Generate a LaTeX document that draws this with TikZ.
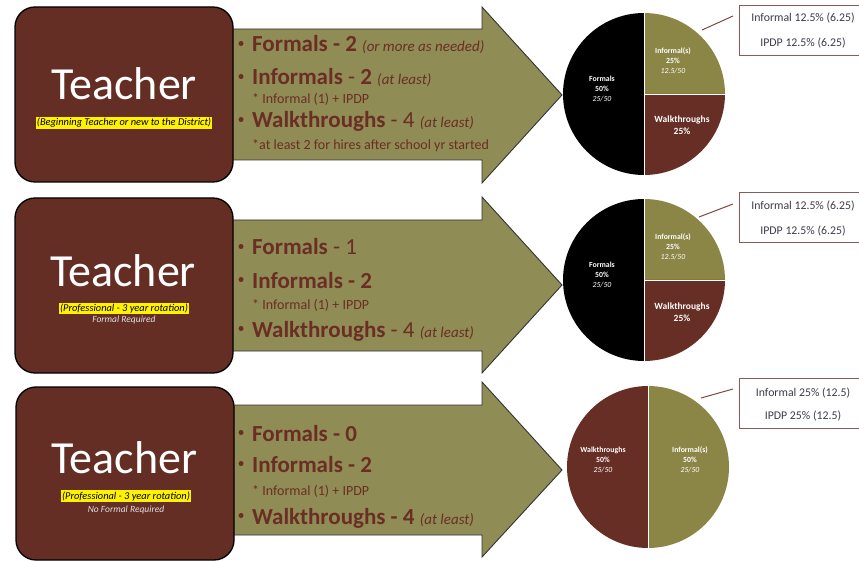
\documentclass[tikz,border=0pt]{standalone}
\usepackage{fontspec}
\setmainfont{Carlito}
\definecolor{boxbrown}{HTML}{652E24}
\definecolor{arrowolive}{HTML}{908C55}
\definecolor{pieolive}{HTML}{8B8646}
\definecolor{piebrown}{HTML}{672E25}
\definecolor{textbrown}{HTML}{6A2E25}
\definecolor{calloutred}{HTML}{8B5A58}
\definecolor{callouttext}{HTML}{3C3C4C}
\definecolor{leadbrown}{HTML}{7B4A42}
\begin{document}
\begin{tikzpicture}[x=1pt,y=1pt,
  tbox/.style={draw=black, line width=1.3pt, fill=boxbrown, rounded corners=20pt, minimum width=218pt, minimum height=175pt, inner sep=0pt},
  arrowshape/.style={fill=arrowolive, draw=black!80, line width=0.9pt, line join=miter},
  item/.style={anchor=base west, inner sep=0pt, text=textbrown, font=\fontsize{23}{25}\selectfont},
  subitem/.style={anchor=base west, inner sep=0pt, text=textbrown, font=\fontsize{14}{16}\selectfont},
  bul/.style={circle, fill=textbrown, inner sep=0pt, minimum size=5pt},
  teach/.style={anchor=base, inner sep=0pt, text=white, font=\fontsize{46}{50}\selectfont},
  hl/.style={anchor=base, fill=yellow, inner sep=1pt, text=black, font=\fontsize{10.4}{12}\selectfont\itshape},
  hlnote/.style={anchor=base, inner sep=0pt, text=black!12, font=\fontsize{9.5}{11}\selectfont\itshape},
  pielab/.style={align=center, text=white, font=\fontsize{7.8}{9.8}\selectfont\bfseries, inner sep=0pt},
  pielabbig/.style={align=center, text=white, font=\fontsize{9.5}{12.5}\selectfont\bfseries, inner sep=0pt},
  callout/.style={draw=calloutred, line width=1pt, fill=white, minimum width=140pt, minimum height=50pt, anchor=north west, inner sep=0pt},
  ctext/.style={anchor=base, text=callouttext, font=\fontsize{11.8}{13}\selectfont, inner sep=0pt},
  lead/.style={draw=leadbrown, line width=1pt},
  sep/.style={draw=white, line width=0.6pt}
]
\useasboundingbox (0,0) rectangle (859,-561);
\clip (0,0) rectangle (859,-561);
\fill[white] (0,0) rectangle (859,-561);
\newcommand{\paren}[1]{{\fontsize{15}{17}\selectfont\itshape #1}}

% ---------- Row 1 ----------
\draw[arrowshape] (220,-29) -- (482,-29) -- (482,-7) -- (562,-95) -- (482,-183) -- (482,-160) -- (220,-160) -- cycle;
\node[tbox] (tb1) at (124,-94.5) {};
\node[teach] (te1) at (124,-100) {Teacher};
\node[hl] (hl1) at (124,-126) {(Beginning Teacher or new to the District)};
\node[bul] (b11) at (241,-43.5) {};
\node[item] (i11) at (252,-52) {\textbf{Formals - 2} \paren{(or more as needed)}};
\node[bul] (b12) at (241,-76.5) {};
\node[item] (i12) at (252,-85) {\textbf{Informals} - \textbf{2} \paren{(at least)}};
\node[subitem] (s12) at (252,-104) {* Informal (1) + IPDP};
\node[bul] (b13) at (241,-119.5) {};
\node[item] (i13) at (252,-128) {\textbf{Walkthroughs} - 4 \paren{(at least)}};
\node[subitem] (s13) at (252,-150) {*at least 2 for hires after school yr started};

\coordinate (p1) at (644,-94);
\fill[black] (p1) -- ++(90:81pt) arc[start angle=90, end angle=270, radius=81pt] -- cycle;
\fill[pieolive] (p1) -- ++(0:81pt) arc[start angle=0, end angle=90, radius=81pt] -- cycle;
\fill[piebrown] (p1) -- ++(0:81pt) arc[start angle=0, end angle=-90, radius=81pt] -- cycle;
\draw[sep] (p1) -- ++(0:81pt) (p1) -- ++(90:81pt) (p1) -- ++(-90:81pt);
\node[pielab] (pf1) at (602,-89) {Formals\\50\%\\{\normalfont\itshape 25/50}};
\node[pielab] (pi1) at (673,-61) {Informal(s)\\25\%\\{\normalfont\itshape 12.5/50}};
\node[pielabbig] (pw1) at (682,-125) {Walkthroughs\\25\%};

\node[callout] (co1) at (739,-5) {};
\node[ctext] (ct11) at (803,-22) {Informal 12.5\% (6.25)};
\node[ctext] (ct12) at (803,-47) {IPDP 12.5\% (6.25)};
\coordinate (l1a) at (702,-30);
\coordinate (l1b) at (733,-16);
\draw[lead] (l1a) -- (l1b);

% ---------- Row 2 ----------
\draw[arrowshape] (220,-220) -- (482,-220) -- (482,-197) -- (562,-285) -- (482,-373) -- (482,-351) -- (220,-351) -- cycle;
\node[tbox] (tb2) at (124,-285.5) {};
\node[teach] (te2) at (123,-287) {Teacher};
\node[hl] (hl2) at (124,-311.5) {(Professional - 3 year rotation)};
\node[hlnote] (hn2) at (124,-322.5) {Formal Required};
\node[bul] (b21) at (241,-246.5) {};
\node[item] (i21) at (252,-255) {\textbf{Formals} - 1};
\node[bul] (b22) at (241,-279.5) {};
\node[item] (i22) at (252,-288) {\textbf{Informals - 2}};
\node[subitem] (s22) at (252,-309) {* Informal (1) + IPDP};
\node[bul] (b23) at (241,-328.5) {};
\node[item] (i23) at (252,-337) {\textbf{Walkthroughs} - 4 \paren{(at least)}};

\coordinate (p2) at (644,-280);
\fill[black] (p2) -- ++(90:81pt) arc[start angle=90, end angle=270, radius=81pt] -- cycle;
\fill[pieolive] (p2) -- ++(0:81pt) arc[start angle=0, end angle=90, radius=81pt] -- cycle;
\fill[piebrown] (p2) -- ++(0:81pt) arc[start angle=0, end angle=-90, radius=81pt] -- cycle;
\draw[sep] (p2) -- ++(0:81pt) (p2) -- ++(90:81pt) (p2) -- ++(-90:81pt);
\node[pielab] (pf2) at (602,-275) {Formals\\50\%\\{\normalfont\itshape 25/50}};
\node[pielab] (pi2) at (673,-247) {Informal(s)\\25\%\\{\normalfont\itshape 12.5/50}};
\node[pielabbig] (pw2) at (682,-312) {Walkthroughs\\25\%};

\node[callout] (co2) at (739,-192) {};
\node[ctext] (ct21) at (803,-210) {Informal 12.5\% (6.25)};
\node[ctext] (ct22) at (803,-235) {IPDP 12.5\% (6.25)};
\coordinate (l2a) at (699,-217);
\coordinate (l2b) at (733,-204);
\draw[lead] (l2a) -- (l2b);

% ---------- Row 3 ----------
\draw[arrowshape] (220,-405) -- (482,-405) -- (482,-382) -- (562,-470) -- (482,-557) -- (482,-535) -- (220,-535) -- cycle;
\node[tbox, minimum height=173pt] (tb3) at (125,-473.5) {};
\node[teach] (te3) at (124.5,-473) {Teacher};
\node[hl] (hl3) at (126,-499) {(Professional - 3 year rotation)};
\node[hlnote] (hn3) at (126,-512) {No Formal Required};
\node[bul] (b31) at (241,-432.5) {};
\node[item] (i31) at (252,-441) {\textbf{Formals - 0}};
\node[bul] (b32) at (241,-463.5) {};
\node[item] (i32) at (252,-472) {\textbf{Informals - 2}};
\node[subitem] (s32) at (252,-495) {* Informal (1) + IPDP};
\node[bul] (b33) at (241,-515.5) {};
\node[item] (i33) at (252,-524) {\textbf{Walkthroughs - 4} \paren{(at least)}};

\coordinate (p3) at (648,-467);
\fill[piebrown] (p3) -- ++(90:81pt) arc[start angle=90, end angle=270, radius=81pt] -- cycle;
\fill[pieolive] (p3) -- ++(-90:81pt) arc[start angle=-90, end angle=90, radius=81pt] -- cycle;
\draw[sep] (p3) -- ++(90:81pt) (p3) -- ++(-90:81pt);
\node[pielab] (pw3) at (603,-460) {Walkthroughs\\50\%\\{\normalfont\itshape 25/50}};
\node[pielab] (pi3) at (690,-460) {Informal(s)\\50\%\\{\normalfont\itshape 25/50}};

\node[callout] (co3) at (739,-378) {};
\node[ctext] (ct31) at (803,-396) {Informal 25\% (12.5)};
\node[ctext] (ct32) at (803,-419) {IPDP 25\% (12.5)};
\coordinate (l3a) at (701,-398);
\coordinate (l3b) at (733,-389);
\draw[lead] (l3a) -- (l3b);
\end{tikzpicture}
\end{document}
